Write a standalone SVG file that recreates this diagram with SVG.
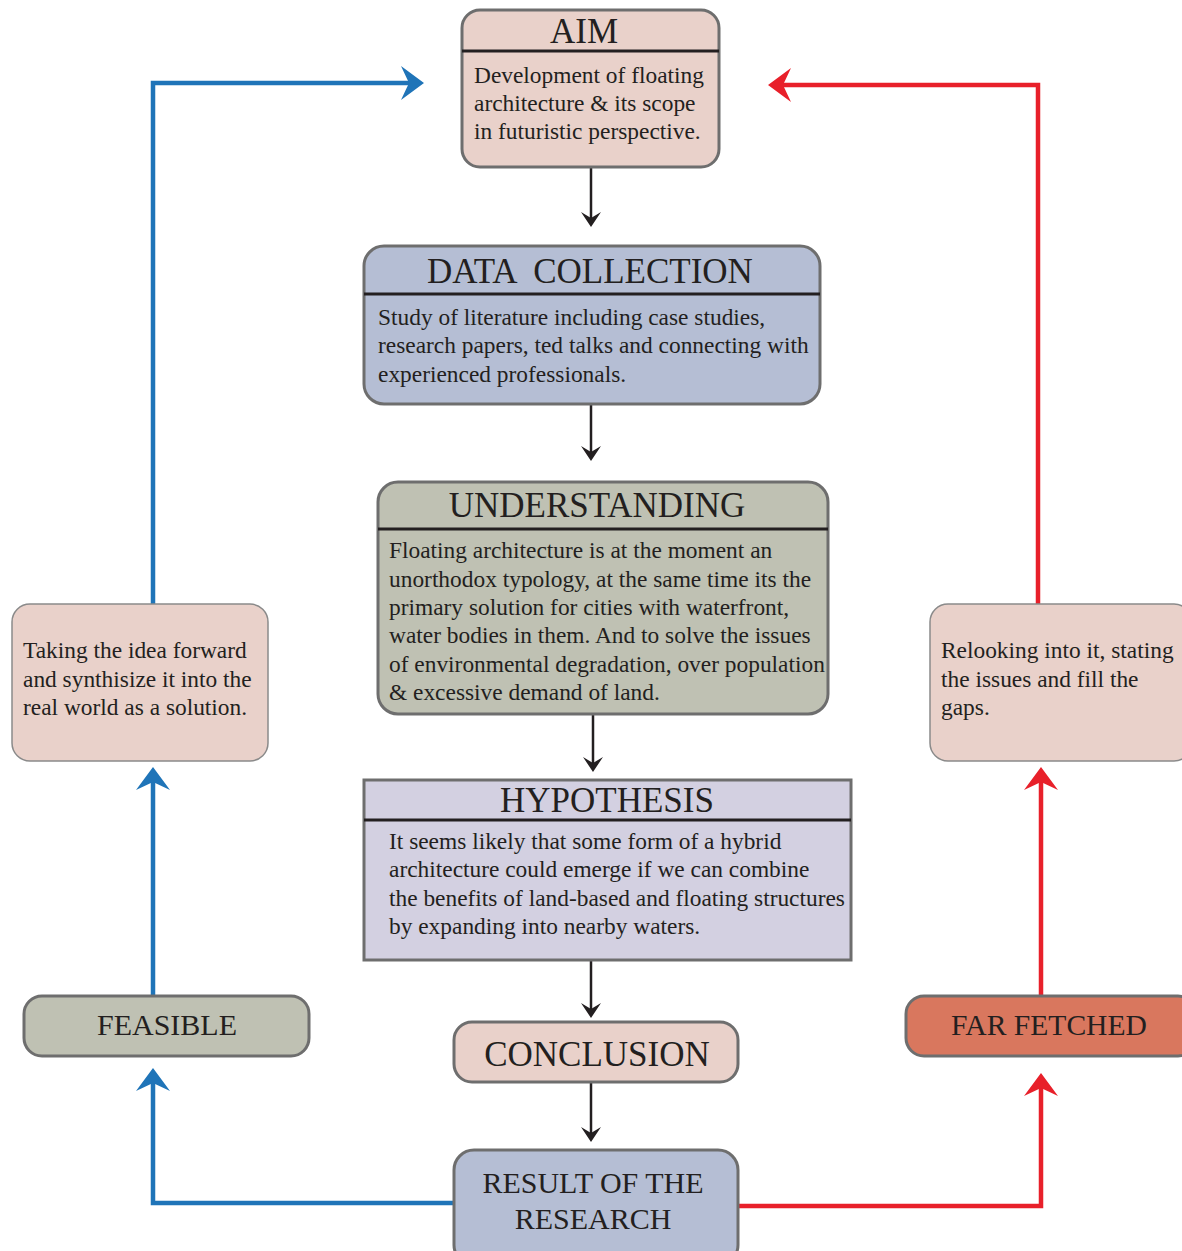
<svg xmlns="http://www.w3.org/2000/svg" width="1182" height="1251" viewBox="0 0 1182 1251">
<style>
.box{stroke:#6e6e6e;stroke-width:3}
.side{stroke:#8a8a8a;stroke-width:1.5}
.hdr{stroke:#231f20;stroke-width:3}
.t{font-family:"Liberation Serif","Times New Roman",serif;fill:#231f20}
.title{font-size:35px;text-anchor:middle}
.body{font-size:23.4px}
.pink{fill:#e9d1ca}
.blue{fill:#b5bed4}
.green{fill:#bfc1b3}
.lav{fill:#d3d0e1}
.red{fill:#d9775e}
.kl{stroke:#231f20;stroke-width:2.5;fill:none}
.bl{stroke:#1f74b8;stroke-width:4.5;fill:none}
.rl{stroke:#e8202a;stroke-width:4.5;fill:none}
</style>
<defs>
<marker id="ahK" viewBox="-16 -11 17 22" refX="-9" refY="0" markerWidth="17" markerHeight="22" orient="auto" markerUnits="userSpaceOnUse"><path d="M0,0 L-15,-10 L-9,0 L-15,10 Z" fill="#231f20"/></marker>
<marker id="ahB" viewBox="-24 -18 25 36" refX="-15" refY="0" markerWidth="25" markerHeight="36" orient="auto" markerUnits="userSpaceOnUse"><path d="M0,0 L-23,-17 L-15,0 L-23,17 Z" fill="#1f74b8"/></marker>
<marker id="ahR" viewBox="-24 -18 25 36" refX="-15" refY="0" markerWidth="25" markerHeight="36" orient="auto" markerUnits="userSpaceOnUse"><path d="M0,0 L-23,-17 L-15,0 L-23,17 Z" fill="#e8202a"/></marker>
</defs>
<rect width="1182" height="1251" fill="#ffffff"/>

<g id="connectors">
<path class="kl" d="M591,167 V218" marker-end="url(#ahK)"/>
<path class="kl" d="M591,404 V452" marker-end="url(#ahK)"/>
<path class="kl" d="M593,714 V763" marker-end="url(#ahK)"/>
<path class="kl" d="M591,960 V1009" marker-end="url(#ahK)"/>
<path class="kl" d="M591,1082 V1133" marker-end="url(#ahK)"/>
<path class="bl" d="M454,1203 H153 V1083" marker-end="url(#ahB)"/>
<path class="bl" d="M153,995 V782" marker-end="url(#ahB)"/>
<path class="bl" d="M153,604 V83 H409" marker-end="url(#ahB)"/>
<path class="rl" d="M738,1206 H1041 V1088" marker-end="url(#ahR)"/>
<path class="rl" d="M1041,995 V782" marker-end="url(#ahR)"/>
<path class="rl" d="M1038,604 V85 H783" marker-end="url(#ahR)"/>
</g>

<g id="aim">
<rect class="box pink" x="462" y="10" width="257" height="157" rx="18"/>
<line class="hdr" x1="462" y1="51" x2="719" y2="51"/>
<text class="t title" x="584" y="43">AIM</text>
<text class="t body" x="474" y="83">Development of floating</text>
<text class="t body" x="474" y="111">architecture &amp; its scope</text>
<text class="t body" x="474" y="139">in futuristic perspective.</text>
</g>

<g id="data-collection">
<rect class="box blue" x="364" y="246" width="456" height="158" rx="20"/>
<line class="hdr" x1="364" y1="294" x2="820" y2="294"/>
<text class="t title" x="590" y="283" xml:space="preserve">DATA  COLLECTION</text>
<text class="t body" x="378" y="325">Study of literature including case studies,</text>
<text class="t body" x="378" y="353">research papers, ted talks and connecting with</text>
<text class="t body" x="378" y="382">experienced professionals.</text>
</g>

<g id="understanding">
<rect class="box green" x="378" y="482" width="450" height="232" rx="20"/>
<line class="hdr" x1="378" y1="529" x2="828" y2="529"/>
<text class="t title" x="597" y="517">UNDERSTANDING</text>
<text class="t body" x="389" y="558">Floating architecture is at the moment an</text>
<text class="t body" x="389" y="587">unorthodox typology, at the same time its the</text>
<text class="t body" x="389" y="615">primary solution for cities with waterfront,</text>
<text class="t body" x="389" y="643">water bodies in them. And to solve the issues</text>
<text class="t body" x="389" y="672">of environmental degradation, over population</text>
<text class="t body" x="389" y="700">&amp; excessive demand of land.</text>
</g>

<g id="hypothesis">
<rect class="box lav" x="364" y="780" width="487" height="180"/>
<line class="hdr" x1="364" y1="820" x2="851" y2="820"/>
<text class="t title" x="607" y="812">HYPOTHESIS</text>
<text class="t body" x="389" y="849">It seems likely that some form of a hybrid</text>
<text class="t body" x="389" y="877">architecture could emerge if we can combine</text>
<text class="t body" x="389" y="906">the benefits of land-based and floating structures</text>
<text class="t body" x="389" y="934">by expanding into nearby waters.</text>
</g>

<g id="conclusion">
<rect class="box pink" x="454" y="1022" width="284" height="60" rx="18"/>
<text class="t title" x="597" y="1066">CONCLUSION</text>
</g>

<g id="result">
<rect class="box blue" x="454" y="1150" width="284" height="115" rx="20"/>
<text class="t" x="593" y="1193" font-size="30" text-anchor="middle">RESULT OF THE</text>
<text class="t" x="593" y="1229" font-size="30" text-anchor="middle">RESEARCH</text>
</g>

<g id="feasible">
<rect class="box green" x="24" y="996" width="285" height="60" rx="18"/>
<text class="t" x="167" y="1035" font-size="30" text-anchor="middle">FEASIBLE</text>
</g>

<g id="far-fetched">
<rect class="box red" x="906" y="996" width="290" height="60" rx="18"/>
<text class="t" x="951" y="1035" font-size="29.6">FAR FETCHED</text>
</g>

<g id="synthesize">
<rect class="side pink" x="12" y="604" width="256" height="157" rx="18"/>
<text class="t body" x="23" y="658">Taking the idea forward</text>
<text class="t body" x="23" y="687">and synthisize it into the</text>
<text class="t body" x="23" y="715">real world as a solution.</text>
</g>

<g id="relook">
<rect class="side pink" x="930" y="604" width="262" height="157" rx="18"/>
<text class="t body" x="941" y="658">Relooking into it, stating</text>
<text class="t body" x="941" y="687">the issues and fill the</text>
<text class="t body" x="941" y="715">gaps.</text>
</g>
</svg>
